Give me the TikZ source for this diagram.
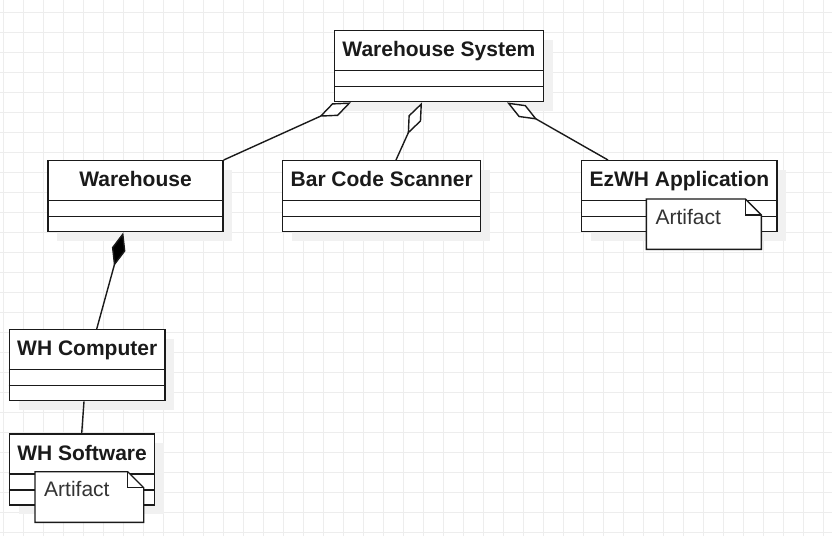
\documentclass[tikz,border=0pt]{standalone}
\usepackage{fontspec}
\setmainfont{Liberation Sans}
\usetikzlibrary{arrows.meta,calc}
\definecolor{gridc}{HTML}{EDEDED}
\definecolor{shadowc}{HTML}{F1F1F1}
\definecolor{linec}{HTML}{1A1A1A}
\definecolor{notetext}{HTML}{333333}
\tikzset{
  cls/.style={draw=linec, line width=1.4pt, fill=white, rectangle, inner sep=0pt},
  clsline/.style={draw=linec, line width=1.4pt},
  ttl/.style={font=\fontsize{21}{25}\selectfont\bfseries, text=linec, inner sep=0pt, anchor=base},
  notebox/.style={rectangle, inner sep=0pt},
  notepath/.style={draw=linec, line width=1.4pt, fill=white, line join=miter},
  notetxt/.style={font=\fontsize{21}{25}\selectfont, text=notetext, inner sep=0pt, anchor=base west},
  conn/.style={draw=linec, line width=1.4pt},
  agg/.style={conn, -{Diamond[length=35pt, width=14pt, fill=white, line width=1.4pt]}},
  comp/.style={conn, -{Diamond[length=35pt, width=14pt, fill=black, line width=1.4pt]}},
}
\newcommand{\umlclass}[6]{%
  \fill[shadowc] (#2+10,#3+10) rectangle ++(#4,#5);
  \node[cls, minimum width=#4, minimum height=#5, anchor=north west] (#1) at (#2,#3) {};
  \node[ttl] (#1t) at ($(#1.north)+(0,26.7)$) {#6};
  \draw[clsline] ($(#1.north west)+(0,40.7)$) -- ($(#1.north east)+(0,40.7)$);
  \draw[clsline] ($(#1.north west)+(0,56.5)$) -- ($(#1.north east)+(0,56.5)$);
}
\newcommand{\umlnote}[5]{%
  \node[notebox, minimum width=#4, minimum height=#5, anchor=north west] (#1) at (#2,#3) {};
  \path[notepath] (#1.north west) -- ($(#1.north east)+(-16,0)$) -- ($(#1.north east)+(0,16)$)
     -- (#1.south east) -- (#1.south west) -- cycle;
  \draw[clsline, line join=miter] ($(#1.north east)+(-16,0)$) -- ++(0,16) -- ++(16,0);
  \node[notetxt] (#1t) at ($(#1.north west)+(9,25)$) {Artifact};
}
\begin{document}
\begin{tikzpicture}[x=1pt, y=-1pt]
\useasboundingbox (0,0) rectangle (832,536);
\fill[white] (0,0) rectangle (832,536);
\foreach \i in {0,...,41} { \draw[gridc, line width=1pt] (3+20*\i,0) -- (3+20*\i,536); }
\foreach \j in {0,...,26} { \draw[gridc, line width=1pt] (0,12+20*\j) -- (832,12+20*\j); }

\umlclass{ws}{334}{30}{208.5}{71}{Warehouse System}
\umlclass{wh}{47.3}{160}{175}{71}{Warehouse}
\umlclass{bcs}{282}{160}{198}{71}{Bar Code Scanner}
\umlclass{ezwh}{581}{160}{195.3}{71}{EzWH Application}
\umlclass{whc}{8.7}{329}{155.6}{71}{WH Computer}
\umlclass{whs}{8.7}{433.3}{145.3}{71}{WH Software}

\umlnote{art1}{646.3}{199}{114.7}{50}
\umlnote{art2}{35}{471.7}{108.3}{50.3}

\draw[agg] (wh.north east) -- ($(ws.south west)+(17,0)$);
\draw[agg] ($(bcs.north west)+(114,0)$) -- ($(ws.south west)+(88,0)$);
\draw[agg] ($(ezwh.north west)+(27,0)$) -- ($(ws.south west)+(173,0)$);
\draw[comp] ($(whc.north west)+(88,0)$) -- ($(wh.south west)+(76,0)$);
\draw[conn] ($(whc.south west)+(75.3,0)$) -- ($(whs.north west)+(73,0)$);
\end{tikzpicture}
\end{document}
